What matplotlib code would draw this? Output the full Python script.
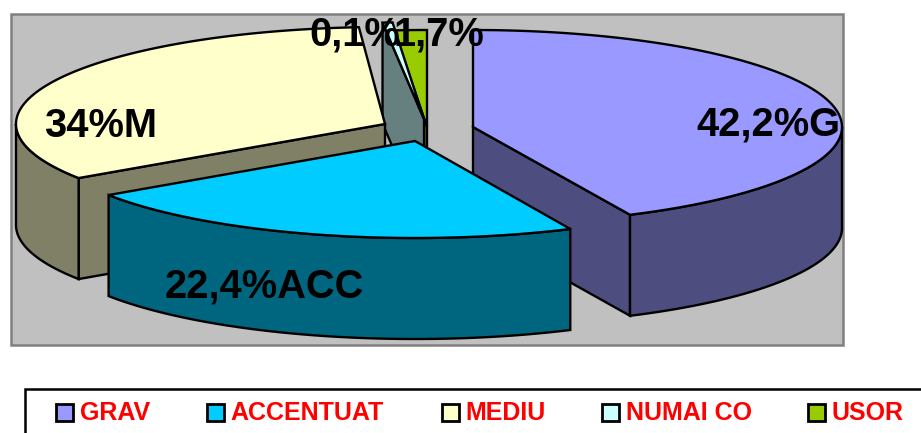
import matplotlib
matplotlib.use('Agg')
import matplotlib.pyplot as plt
from matplotlib.patches import Polygon, Rectangle
import numpy as np

plt.rcParams['font.family'] = ['Liberation Sans', 'DejaVu Sans']

labels = ['GRAV', 'ACCENTUAT', 'MEDIU', 'NUMAI CO', 'USOR']
values = [42.2, 22.4, 34, 0.1, 1.7]
texts = ['42,2%G', '22,4%ACC', '34%M', '0,1%', '1,7%']

top_colors = ['#9999FF', '#00CCFF', '#FFFFCC', '#CCFFFF', '#99CC00']
side_colors = ['#4D4D80', '#006680', '#808066', '#668080', '#666600']

# layout, all in pixels of the picture
centers = [(473, 127), (415, 141), (385, 124), (424, 119), (427, 127)]
rim_fix = [(0, 3.5), (3.8, 4.5), (4.5, 2.4), (0, 1.2), (1, 0)]
text_pos = [(768.5, 124), (264, 287), (100.5, 126), (355, 35), (439, 35)]
legend_box_x = [56, 207, 442, 602, 808]
rx, ry, depth = 369, 97, 101
draw_order = [4, 3, 2, 0, 1]

fig = plt.figure(figsize=(9.21, 4.33), dpi=100)
ax = fig.add_axes([0, 0, 1, 1])
ax.set_xlim(0, 921)
ax.set_ylim(433, 0)
ax.axis('off')

ax.add_patch(Rectangle((11, 14), 832, 331, fc='#C0C0C0', ec='#808080', lw=1.8, zorder=0))


def rim(cx, cy, a0, a1):
    t = np.radians(np.linspace(a0, a1, 200))
    return np.column_stack([cx + rx * np.sin(t), cy - ry * np.cos(t)])


def face(pts, color, z):
    ax.add_patch(Polygon(pts, closed=True, fc=color, ec='black', lw=1.7, joinstyle='miter', zorder=z))


edges = np.cumsum([0] + values) / sum(values) * 360
down = np.array([0, depth])

for n, i in enumerate(draw_order):
    cx, cy = centers[i]
    a0 = edges[i] + rim_fix[i][0]
    a1 = edges[i + 1] + rim_fix[i][1]
    z = 2 + n
    apex = np.array([cx, cy])
    side = side_colors[i]
    # cut faces that look towards the viewer
    if np.sin(np.radians(a0)) < -1e-6:
        p = rim(cx, cy, a0, a0)[0]
        face([apex, p, p + down, apex + down], side, z)
    if np.sin(np.radians(a1)) > 1e-6:
        p = rim(cx, cy, a1, a1)[0]
        face([apex, p, p + down, apex + down], side, z)
    # outer wall, only the front half shows
    lo, hi = max(a0, 90), min(a1, 270)
    if lo < hi:
        r = rim(cx, cy, lo, hi)
        face(np.vstack([r, (r + down)[::-1]]), side, z)
    # top
    face(np.vstack([apex, rim(cx, cy, a0, a1)]), top_colors[i], z)

for t, (x, y) in zip(texts, text_pos):
    ax.text(x, y, t, fontsize=28.7, fontweight='bold', color='black', ha='center', va='center', zorder=20)

# legend frame runs off the picture on the right and at the bottom
ax.add_patch(Rectangle((25, 389), 940, 80, fc='white', ec='black', lw=1.8, zorder=1))
for lab, col, x in zip(labels, top_colors, legend_box_x):
    ax.add_patch(Rectangle((x, 404), 16.5, 16.5, fc=col, ec='black', lw=2, zorder=5))
    ax.text(x + 23.5, 413, lab, fontsize=18, fontweight='bold', color='#FF0000', ha='left', va='center', zorder=5)

fig.savefig('out.png', dpi=100)
